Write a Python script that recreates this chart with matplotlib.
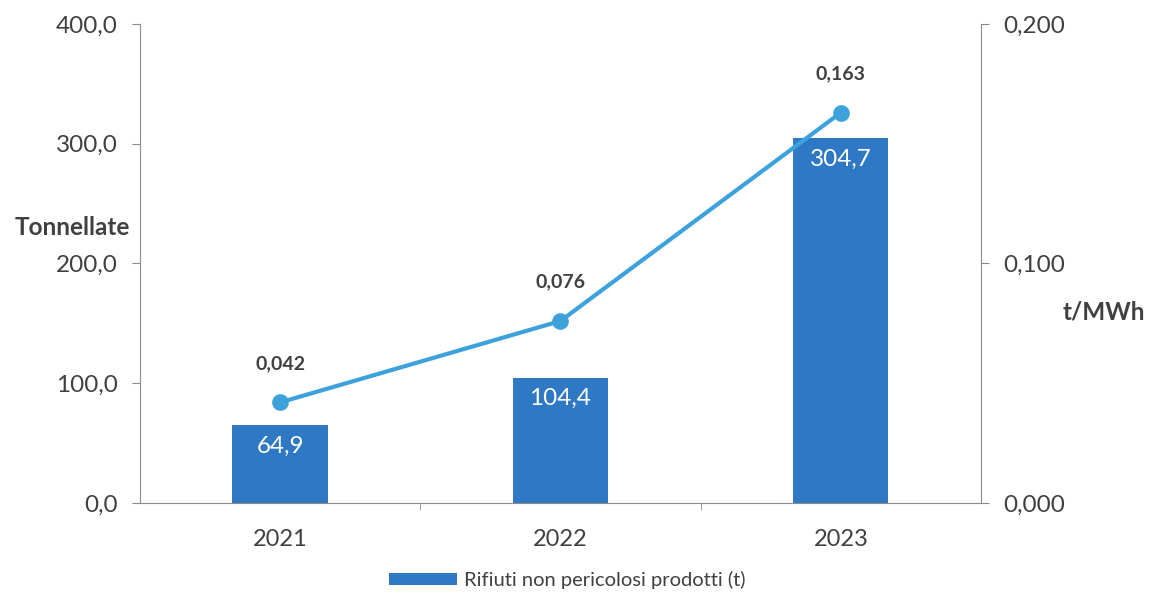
import matplotlib
matplotlib.use("Agg")
import matplotlib.pyplot as plt
import numpy as np

years = ["2021", "2022", "2023"]
tonnes = [64.9, 104.4, 304.7]
intensity = [0.042, 0.076, 0.163]

bar_color = "#2F78C4"
line_color = "#3DA2DC"
text_color = "#404040"
axis_color = "#8C8C8C"

plt.rcParams["font.family"] = ["Lato", "DejaVu Sans"]

fig = plt.figure(figsize=(11.51, 5.93), dpi=100)
ax = fig.add_axes([0.1216, 0.1518, 0.7307, 0.8077])
ax2 = ax.twinx()

x = np.arange(len(years))
bars = ax.bar(x, tonnes, width=0.34, color=bar_color, zorder=2,
              label="Rifiuti non pericolosi prodotti (t)")
for xi, v in zip(x, tonnes):
    ax.annotate(f"{v:.1f}".replace(".", ","), (xi, v), xytext=(0, -15),
                textcoords="offset points", ha="center", va="center",
                color="white", fontsize=17.5)

ax.set_xlim(-0.5, 2.5)
ax.set_ylim(0, 400)
ax.set_yticks([0, 100, 200, 300, 400])
ax.set_yticklabels([f"{t:.1f}".replace(".", ",") for t in [0, 100, 200, 300, 400]])
ax.set_xticks(x)
ax.set_xticklabels(years)
ax.set_xticks([0.5, 1.5], minor=True)
ax.tick_params(axis="x", which="major", length=0, pad=19, labelsize=17, colors=text_color)
ax.tick_params(axis="x", which="minor", length=5, color=axis_color)
ax.tick_params(axis="y", length=6, color=axis_color, labelsize=17.5, labelcolor=text_color, pad=10)

for s in ["top", "right"]:
    ax.spines[s].set_visible(False)
ax.spines["left"].set_color(axis_color)
ax.spines["bottom"].set_color(axis_color)

ax2.plot(x, intensity, color=line_color, lw=3, marker="o", ms=11, zorder=3)
for xi, v in zip(x, intensity):
    ax2.annotate(f"{v:.3f}".replace(".", ","), (xi, v), xytext=(0, 28),
                 textcoords="offset points", ha="center", va="center",
                 color=text_color, fontsize=14, fontweight="bold")
ax2.set_ylim(0, 0.2)
ax2.set_yticks([0, 0.1, 0.2])
ax2.set_yticklabels(["0,000", "0,100", "0,200"])
ax2.tick_params(axis="y", length=6, color=axis_color, labelsize=17.5, labelcolor=text_color, pad=10)
for s in ["top", "left", "bottom"]:
    ax2.spines[s].set_visible(False)
ax2.spines["right"].set_color(axis_color)

fig.text(130 / 1151, 1 - 228 / 593, "Tonnellate", ha="right", va="center",
         fontsize=17.5, fontweight="bold", color=text_color)
fig.text(1145 / 1151, 1 - 312 / 593, "t/MWh", ha="right", va="center",
         fontsize=17.5, fontweight="bold", color=text_color)

fig.legend(handles=[bars], loc="center", bbox_to_anchor=(567 / 1151, 1 - 580 / 593),
           frameon=False, fontsize=14.5, handlelength=3.4, handleheight=0.5,
           handletextpad=0.3, labelcolor=text_color)

fig.savefig("out.png", dpi=100, facecolor="white")
